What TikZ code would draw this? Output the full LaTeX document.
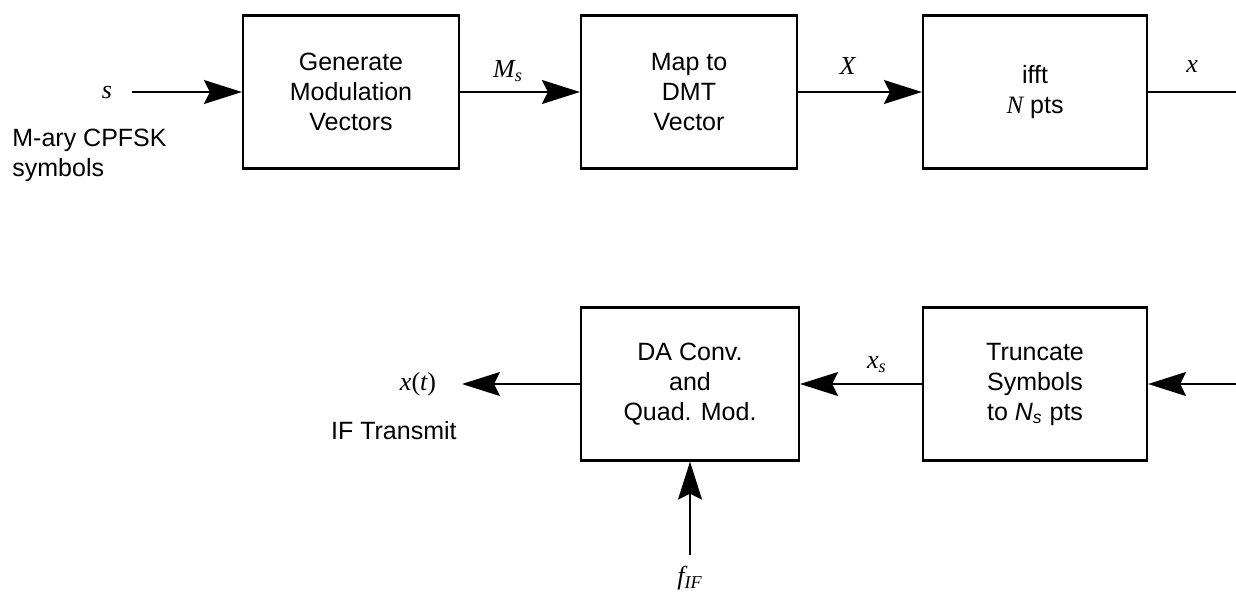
\documentclass[tikz,border=0pt]{standalone}
\usepackage{fontspec}
\setmainfont{Liberation Sans}
\newfontfamily\tms{Liberation Serif}
\usetikzlibrary{arrows.meta}
\newcommand{\vr}[1]{{\tms\itshape #1}}
\begin{document}
\begin{tikzpicture}[
    x=0.5pt,
    y=-0.5pt,
    font=\fontsize{12.5}{15}\selectfont,
    blk/.style={draw, line width=1.1pt, align=center, minimum width=108pt, minimum height=76.5pt, inner sep=0pt},
    wide/.style={blk, minimum width=112pt},
    lbl/.style={font=\fontsize{13}{15}\selectfont},
    e/.style={line width=1pt, -{Stealth[length=19pt, width=12pt, inset=3pt]}},
    w/.style={line width=1pt},
]
    \useasboundingbox (0,0) rectangle (1236,596);

    % top row
    \node[blk] (gen) at (351,92) {Generate\\Modulation\\Vectors};
    \node[blk] (map) at (689,92) {Map to\\DMT\\Vector};
    \node[wide] (ifft) at (1035,92) {ifft\\\vr{N} pts};
    \coordinate (sin) at (132,92);
    \coordinate (xout) at (1236,92);
    \node[lbl] (slbl) at (107,92) {\vr{s}};
    \node[anchor=west, align=left, inner sep=0pt] (mary) at (12,155) {M-ary CPFSK\\symbols};

    % bottom row
    \node[wide] (trunc) at (1035,384) {Truncate\\Symbols\\to \textit{N\textsubscript{s}} pts};
    \node[blk, minimum width=109pt] (da) at (690,384) {DA Conv.\\and\\Quad. Mod.};
    \coordinate (trin) at (1236,384);
    \coordinate (xt) at (462,384);
    \coordinate (fif) at (690,555);
    \node[lbl] (xtlbl) at (418,384) {\vr{x}{\tms(}\vr{t}{\tms)}};
    \node[anchor=east, inner sep=0pt] (iftx) at (457,431) {IF Transmit};
    \node[lbl] (fiflbl) at (690,578) {\vr{f\textsubscript{IF}}};

    \draw[e] (sin) -- (gen);
    \draw[e] (gen) -- node[lbl, pos=0.4, above=1.5pt] {\vr{M\textsubscript{s}}} (map);
    \draw[e] (map) -- node[lbl, pos=0.4, above=5pt] {\vr{X}} (ifft);
    \draw[w] (ifft) -- node[lbl, midway, above=6pt] {\vr{x}} (xout);

    \draw[e] (trin) -- (trunc);
    \draw[e] (trunc) -- node[lbl, pos=0.37, above=2pt] {\vr{x\textsubscript{s}}} (da);
    \draw[e] (da) -- (xt);
    \draw[e] (fif) -- (da);
\end{tikzpicture}
\end{document}
